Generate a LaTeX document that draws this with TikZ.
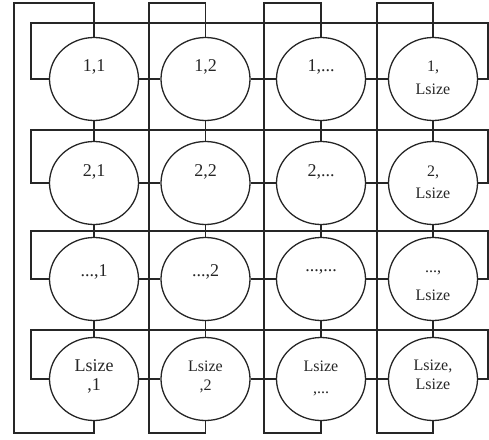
\documentclass[tikz,border=0pt]{standalone}
\usepackage{fontspec}
\setmainfont{Liberation Serif}
\usetikzlibrary{shapes.geometric}
\begin{document}
\begin{tikzpicture}[x=1pt,y=-1pt,
  wire/.style={line width=1.3pt,draw=black!85},
  cell/.style={ellipse,draw=black!85,line width=1.3pt,minimum width=89pt,minimum height=83pt,inner sep=0pt},
  lab/.style={font=\fontsize{18}{20}\selectfont,text=black!85,inner sep=0pt},
  slab/.style={font=\fontsize{16}{18}\selectfont,text=black!85,inner sep=0pt}]
\useasboundingbox (0,0) rectangle (489,439);
% column centres, row centres
\def\cxA{94}\def\cxB{205.5}\def\cxC{321}\def\cxD{433}
\def\ryA{79}\def\ryB{183}\def\ryC{279}\def\ryD{379}
% cells
\foreach \r/\yy in {1/\ryA,2/\ryB,3/\ryC,4/\ryD}{
  \foreach \c/\xx in {1/\cxA,2/\cxB,3/\cxC,4/\cxD}{
    \node[cell] (n\r\c) at (\xx,\yy) {};
  }
}
% labels (yshift is in page direction: positive = up)
\node[lab] (t11) at ([yshift=12]n11.center) {1,1};
\node[lab] (t12) at ([yshift=12]n12.center) {1,2};
\node[lab] (t13) at ([yshift=12]n13.center) {1,...};
\node[slab] (t14a) at ([yshift=12]n14.center) {1,};
\node[slab] (t14b) at ([yshift=-10]n14.center) {Lsize};
\node[lab] (t21) at ([yshift=11]n21.center) {2,1};
\node[lab] (t22) at ([yshift=11]n22.center) {2,2};
\node[lab] (t23) at ([yshift=11]n23.center) {2,...};
\node[slab] (t24a) at ([yshift=11]n24.center) {2,};
\node[slab] (t24b) at ([yshift=-10]n24.center) {Lsize};
\node[lab] (t31) at ([yshift=7]n31.center) {...,1};
\node[lab] (t32) at ([yshift=7]n32.center) {...,2};
\node[lab] (t33) at ([yshift=7]n33.center) {...,...};
\node[slab] (t34a) at ([yshift=6]n34.center) {...,};
\node[slab] (t34b) at ([yshift=-16]n34.center) {Lsize};
\node[lab] (t41a) at ([yshift=13]n41.center) {Lsize};
\node[lab] (t41b) at ([yshift=-7]n41.center) {,1};
\node[slab] (t42a) at ([yshift=13]n42.center) {Lsize};
\node[slab] (t42b) at ([yshift=-7]n42.center) {,2};
\node[slab] (t43a) at ([yshift=13]n43.center) {Lsize};
\node[slab] (t43b) at ([yshift=-15]n43.center) {,...};
\node[slab] (t44a) at ([yshift=13]n44.center) {Lsize,};
\node[slab] (t44b) at ([yshift=-5]n44.center) {Lsize};
% vertical links inside columns and horizontal links inside rows
\foreach \c in {1,2,3,4}{
  \draw[wire] (n1\c.south) -- (n2\c.north);
  \draw[wire] (n2\c.south) -- (n3\c.north);
  \draw[wire] (n3\c.south) -- (n4\c.north);
}
\foreach \r in {1,2,3,4}{
  \draw[wire] (n\r1.east) -- (n\r2.west);
  \draw[wire] (n\r2.east) -- (n\r3.west);
  \draw[wire] (n\r3.east) -- (n\r4.west);
}
% column wrap-around
\foreach \c/\vx in {1/14,2/149,3/264,4/377}{
  \draw[wire] (n1\c.north) |- (\vx,3) -- (\vx,433) -| (n4\c.south);
}
% row wrap-around
\foreach \r/\hy in {1/23,2/130,3/231,4/330}{
  \draw[wire] (n\r1.west) -| (31,\hy) -- (488,\hy) |- (n\r4.east);
}
\end{tikzpicture}
\end{document}
